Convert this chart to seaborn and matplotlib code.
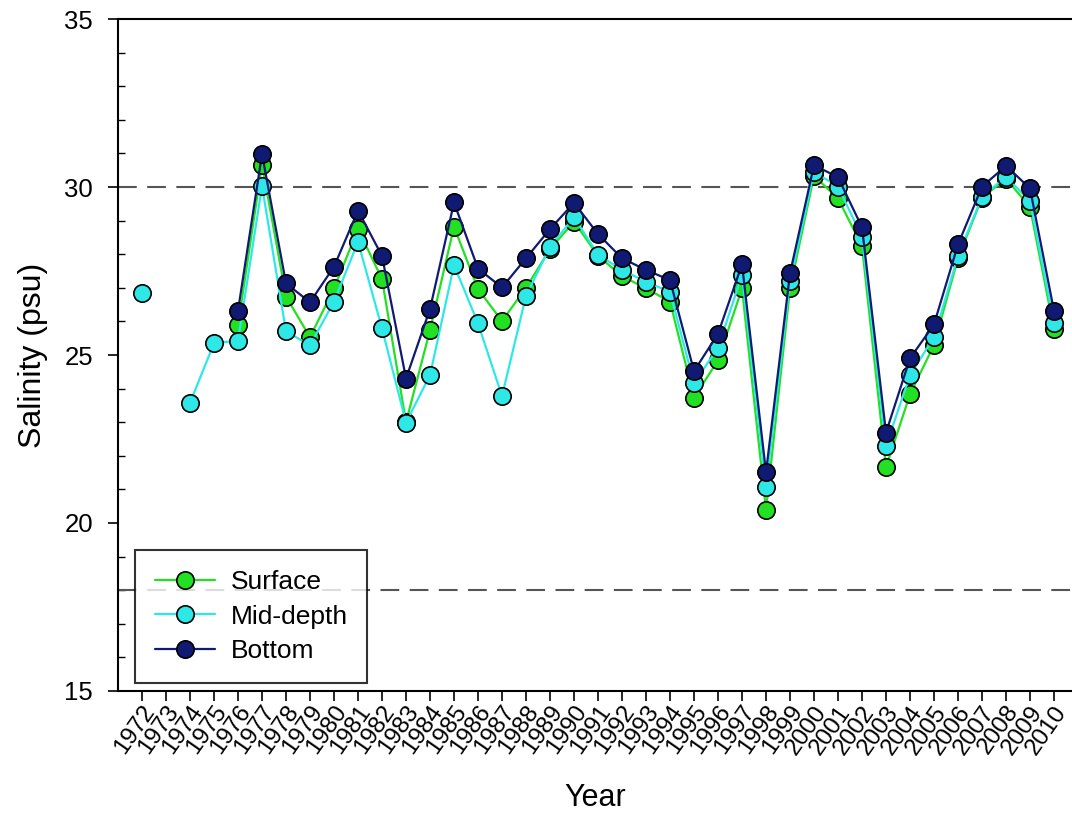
import matplotlib
matplotlib.use("Agg")
import numpy as np
import pandas as pd
import matplotlib.pyplot as plt
import matplotlib.transforms as mtransforms
import seaborn as sns
from matplotlib.ticker import MultipleLocator
from matplotlib.lines import Line2D

# Annual mean salinity (psu) by depth layer
years = list(range(1972, 2011))
nan = np.nan
surface = [nan, nan, nan, nan, 25.89, 30.67, 26.74, 25.53, 26.98, 28.75,
           27.26, 23.00, 25.74, 28.82, 26.96, 26.01, 27.00, 28.15, 28.97, 27.95,
           27.35, 26.98, 26.59, 23.73, 24.84, 26.98, 20.39, 26.98, 30.33, 29.66,
           28.24, 21.66, 23.83, 25.30, 27.88, 29.68, 30.25, 29.40, 25.76]
mid_depth = [26.85, nan, 23.58, 25.35, 25.43, 30.03, 25.70, 25.29, 26.59, 28.37,
             25.79, 22.99, 24.40, 27.68, 25.94, 23.78, 26.76, 28.22, 29.10, 27.99,
             27.53, 27.18, 26.88, 24.16, 25.22, 27.38, 21.06, 27.20, 30.45, 30.01,
             28.52, 22.29, 24.40, 25.53, 27.95, 29.71, 30.31, 29.58, 25.96]
bottom = [nan, nan, nan, nan, 26.32, 30.98, 27.13, 26.57, 27.63, 29.30,
          27.95, 24.30, 26.37, 29.54, 27.57, 27.01, 27.88, 28.75, 29.53, 28.60,
          27.88, 27.53, 27.23, 24.52, 25.63, 27.70, 21.51, 27.43, 30.65, 30.29,
          28.80, 22.69, 24.90, 25.91, 28.29, 30.01, 30.63, 29.96, 26.31]
layer_names = ["Surface", "Mid-depth", "Bottom"]
reference_levels = [30, 18]

layer_colors = {"Surface": "#22e022", "Mid-depth": "#2ee8e8", "Bottom": "#101a72"}

sns.set_style("ticks")
plt.rcParams["font.family"] = ["Liberation Sans", "DejaVu Sans"]
plt.rcParams.update({"text.color": "black", "axes.labelcolor": "black",
                     "xtick.color": "black", "ytick.color": "black"})

# Long-form table; a new segment starts after every missing year so lines break there
frames = []
for name, values in zip(layer_names, [surface, mid_depth, bottom]):
    s = pd.Series(values, index=years, dtype=float)
    segment = s.isna().cumsum()
    df = pd.DataFrame({"Year": years, "Salinity": s.values,
                       "Layer": name, "Segment": segment.values})
    frames.append(df.dropna())
data = pd.concat(frames, ignore_index=True)
data["Unit"] = data["Layer"] + "-" + data["Segment"].astype(str)

fig = plt.figure(figsize=(10.72, 8.31), dpi=100)
ax = fig.add_axes([0.1101, 0.1685, 0.8899, 0.8086])

for level in reference_levels:
    ax.axhline(level, color="#555555", lw=1.5, dashes=(9, 5), zorder=1)

marker_size = 12.5
sns.lineplot(data=data, x="Year", y="Salinity", hue="Layer", hue_order=layer_names,
             units="Unit", estimator=None, palette=layer_colors, ax=ax,
             marker="o", markersize=marker_size, markeredgecolor="black",
             markeredgewidth=1.2, linewidth=1.6, legend=False, zorder=3)

ax.set_xlim(1971, 2010.75)
ax.set_ylim(15, 35)
ax.set_xticks(years)
ax.set_xticklabels([str(y) for y in years], rotation=55, ha="right", va="center",
                   rotation_mode="anchor", fontsize=17.5)
ax.yaxis.set_major_locator(MultipleLocator(5))
ax.yaxis.set_minor_locator(MultipleLocator(1))
ax.tick_params(axis="x", direction="out", length=7, width=1.2, pad=5)
ax.tick_params(axis="y", which="major", direction="out", length=7, width=1.2,
               pad=11, labelsize=18.5)
ax.tick_params(axis="y", which="minor", direction="in", length=5, width=1.0)

# nudge the slanted year labels so they sit just right of their ticks
shift = mtransforms.ScaledTranslation(8 / 100, 0, fig.dpi_scale_trans)
for tick in ax.xaxis.get_major_ticks():
    tick.label1.set_transform(tick.label1.get_transform() + shift)

ax.set_xlabel("Year", fontsize=22, labelpad=18)
ax.set_ylabel("Salinity (psu)", fontsize=23, labelpad=12)

for side in ["left", "bottom", "top"]:
    ax.spines[side].set_linewidth(1.5)
    ax.spines[side].set_color("black")
ax.spines["right"].set_visible(False)

handles = [Line2D([], [], color=layer_colors[n], marker="o", markersize=marker_size,
                  markeredgecolor="black", markeredgewidth=1.2, linewidth=1.6)
           for n in layer_names]
leg = ax.legend(handles, layer_names, loc="lower left", bbox_to_anchor=(0.0178, 0.0119),
                borderaxespad=0, fontsize=19, frameon=True, fancybox=False,
                handlelength=2.3, handletextpad=0.57, labelspacing=0.4,
                borderpad=0.75)
leg.get_frame().set_edgecolor("black")
leg.get_frame().set_linewidth(1.5)

fig.savefig("out.png", dpi=100)
